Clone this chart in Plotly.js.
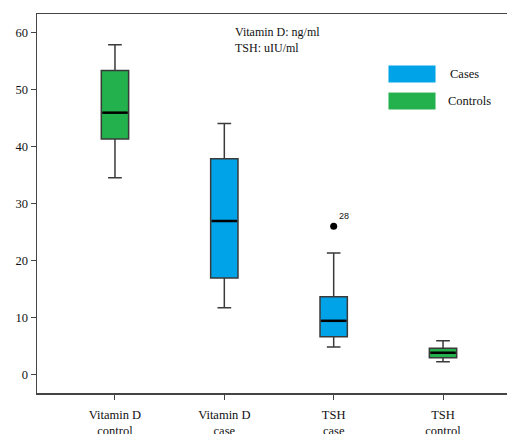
<!DOCTYPE html>
<html>
<head>
<meta charset="utf-8">
<script src="https://cdn.plot.ly/plotly-3.0.1.min.js"></script>
<style>html,body{margin:0;padding:0;background:#fff;}#chart{width:507px;height:434px;}</style>
</head>
<body>
<div id="chart"></div>
<script>
// Categories (axis positions 0..3)
const categories = ["Vitamin D<br>control", "Vitamin D<br>case", "TSH<br>case", "TSH<br>control"];
const groups = ["Controls", "Cases", "Cases", "Controls"];

// Box statistics
const lowerWhisker = [34.6, 11.8, 4.9, 2.3];
const q1Values     = [41.4, 17.0, 6.7, 3.0];
const medians      = [46.0, 27.0, 9.5, 3.9];
const q3Values     = [53.4, 37.9, 13.7, 4.7];
const upperWhisker = [57.9, 44.1, 21.4, 6.0];

// Outlier
const outlierCat = [2];
const outlierValue = [26.1];
const outlierLabel = ["28"];

const colors = {Cases: "#00a2e8", Controls: "#22b14c"};
const boxW = 0.25;

const traces = [];
["Cases", "Controls"].forEach(g => {
  const idx = groups.map((v, i) => v === g ? i : -1).filter(i => i >= 0);
  traces.push({
    type: "box",
    name: g,
    x: idx,
    q1: idx.map(i => q1Values[i]),
    median: idx.map(i => medians[i]),
    q3: idx.map(i => q3Values[i]),
    lowerfence: idx.map(i => lowerWhisker[i]),
    upperfence: idx.map(i => upperWhisker[i]),
    width: boxW,
    whiskerwidth: 0.5,
    fillcolor: colors[g],
    line: {color: "#3a3a3a", width: 1.5},
    boxpoints: false,
    hoverinfo: "skip",
    showlegend: false
  });
});

// median lines overlay (black, thicker)
medians.forEach((m, i) => {
  traces.push({
    type: "scatter", mode: "lines",
    x: [i - boxW / 2 + 0.01, i + boxW / 2 - 0.01], y: [m, m],
    line: {color: "#000", width: 2.5},
    showlegend: false, hoverinfo: "skip"
  });
});

traces.push({
  type: "scatter", mode: "markers+text",
  x: outlierCat, y: outlierValue, text: outlierLabel,
  textposition: "top right",
  textfont: {family: "Liberation Sans, Arial", size: 9, color: "#111"},
  marker: {color: "#000", size: 7},
  showlegend: false, hoverinfo: "skip"
});

const serif = "Liberation Serif, Times New Roman, serif";
const txt = "#111";

const layout = {
  width: 507, height: 434,
  margin: {l: 37, r: 0, t: 14, b: 41},
  paper_bgcolor: "#fff", plot_bgcolor: "#fff",
  showlegend: false,
  font: {family: serif, size: 12, color: txt},
  xaxis: {
    type: "linear",
    range: [-0.713, 3.585],
    tickvals: [0, 1, 2, 3],
    ticktext: categories,
    showgrid: false, zeroline: false,
    showline: true, mirror: true, linecolor: "#444", linewidth: 1.5,
    ticks: "outside", ticklen: 5, tickcolor: "#444",
    ticklabelstandoff: 4,
    tickfont: {family: serif, size: 12.5, color: txt}
  },
  yaxis: {
    range: [-3.16, 63.3],
    tickvals: [0, 10, 20, 30, 40, 50, 60],
    showgrid: false, zeroline: false,
    showline: true, linecolor: "#444", linewidth: 1.5,
    ticks: "outside", ticklen: 5, tickcolor: "#444",
    tickfont: {family: serif, size: 12.5, color: txt}
  },
  shapes: [
    {type: "rect", xref: "paper", yref: "paper", x0: 0.7468, x1: 0.849, y0: 0.818, y1: 0.8654,
     fillcolor: colors.Cases, line: {color: "#fff", width: 1}},
    {type: "rect", xref: "paper", yref: "paper", x0: 0.7468, x1: 0.849, y0: 0.7467, y1: 0.794,
     fillcolor: colors.Controls, line: {color: "#fff", width: 1}}
  ],
  annotations: [
    {xref: "paper", yref: "paper", x: 0.417, y: 0.975, xanchor: "left", yanchor: "top",
     text: "Vitamin D: ng/ml<br>TSH: uIU/ml", showarrow: false, align: "left",
     font: {family: serif, size: 12, color: txt}},
    {xref: "paper", yref: "paper", x: 0.875, y: 0.8417, xanchor: "left", yanchor: "middle",
     text: "Cases", showarrow: false, font: {family: serif, size: 12.5, color: txt}},
    {xref: "paper", yref: "paper", x: 0.871, y: 0.7704, xanchor: "left", yanchor: "middle",
     text: "Controls", showarrow: false, font: {family: serif, size: 12.5, color: txt}}
  ]
};

Plotly.newPlot("chart", traces, layout, {displayModeBar: false, staticPlot: true});
</script>
</body>
</html>
